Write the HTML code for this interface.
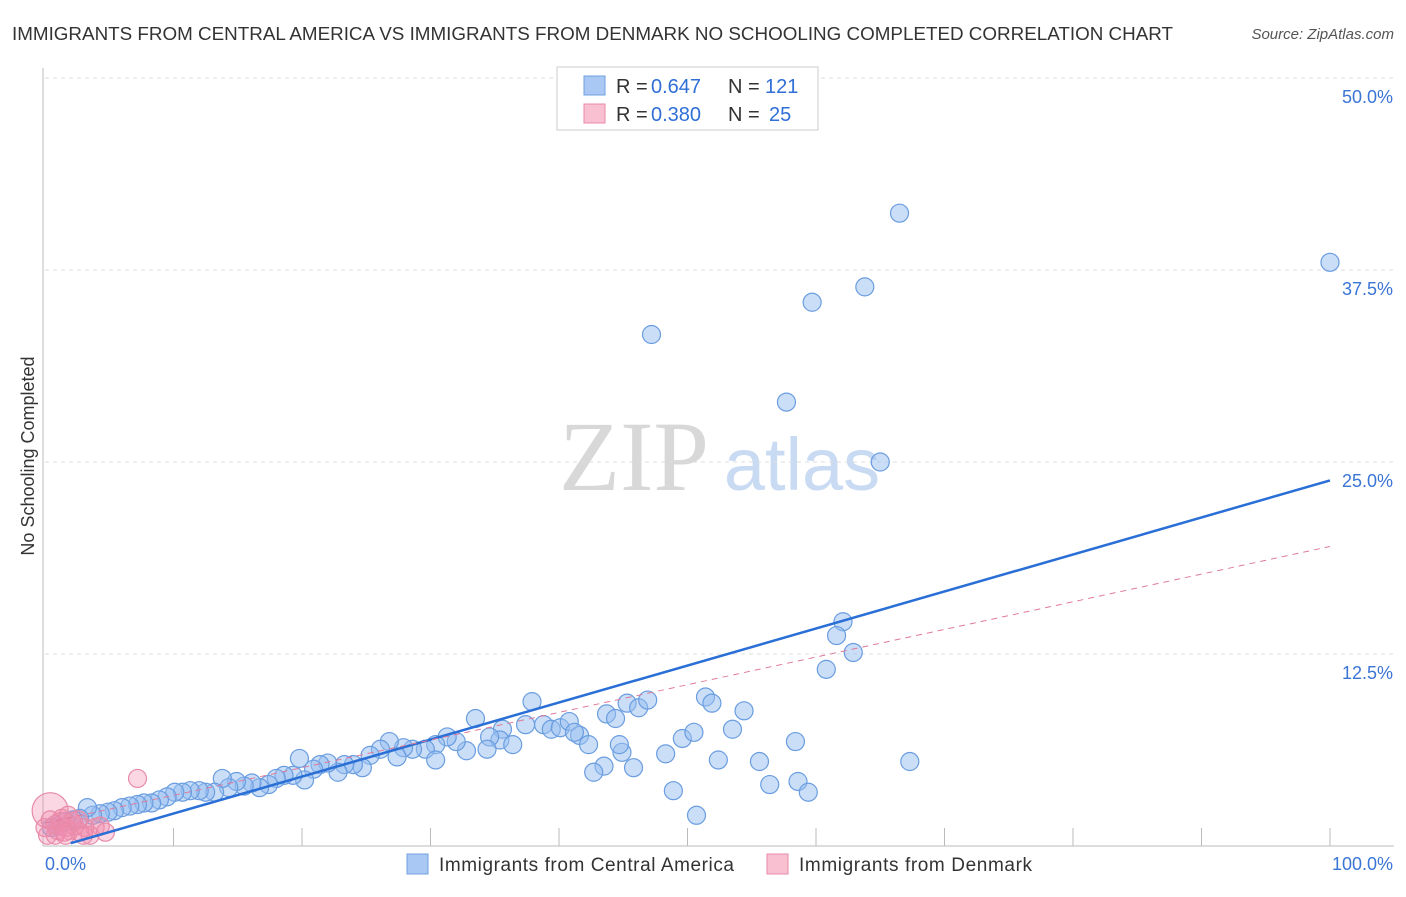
<!DOCTYPE html>
<html><head><meta charset="utf-8"><style>
body{margin:0;background:#fff;font-family:"Liberation Sans",sans-serif;}
</style></head><body>
<svg width="1406" height="892" font-family="Liberation Sans, sans-serif">
<text x="12" y="40" font-size="18" fill="#333" textLength="1161" lengthAdjust="spacingAndGlyphs">IMMIGRANTS FROM CENTRAL AMERICA VS IMMIGRANTS FROM DENMARK NO SCHOOLING COMPLETED CORRELATION CHART</text>
<text x="1394" y="39" font-size="15" fill="#555" font-style="italic" text-anchor="end">Source: ZipAtlas.com</text>
<text x="34" y="456" font-size="18" fill="#333" transform="rotate(-90 34 456)" text-anchor="middle">No Schooling Completed</text>
<g><text x="634" y="490" font-size="100" fill="#d8d8d8" style="font-family:'Liberation Serif',serif" text-anchor="middle">ZIP</text><text x="802" y="490" font-size="74" fill="#c9daf3" text-anchor="middle">atlas</text></g>
<g id="grid"></g>
<g id="axes"></g>
<g id="marks"></g>
<g>
<rect x="557" y="67" width="261" height="63" fill="#fff" stroke="#ccc"/>
<rect x="584" y="76" width="21" height="19" fill="#a9c8f3" stroke="#6fa0e0"/>
<rect x="584" y="104" width="21" height="19" fill="#f9c0d2" stroke="#e88aa8"/>
<text x="616" y="93" font-size="20" fill="#333">R =</text><text x="651" y="93" font-size="20" fill="#2f6fd6">0.647</text>
<text x="728" y="93" font-size="20" fill="#333">N =</text><text x="765" y="93" font-size="20" fill="#2f6fd6">121</text>
<text x="616" y="121" font-size="20" fill="#333">R =</text><text x="651" y="121" font-size="20" fill="#2f6fd6">0.380</text>
<text x="728" y="121" font-size="20" fill="#333">N =</text><text x="769" y="121" font-size="20" fill="#2f6fd6">25</text>
</g>
<g>
<rect x="407" y="854" width="21" height="20" fill="#a9c8f3" stroke="#6fa0e0"/>
<text x="439" y="871" font-size="19" fill="#333" textLength="295">Immigrants from Central America</text>
<rect x="767" y="854" width="21" height="20" fill="#f9c0d2" stroke="#e88aa8"/>
<text x="799" y="871" font-size="19" fill="#333" textLength="233">Immigrants from Denmark</text>
</g>
</svg>
<script>
const blueX=[66.5,100,63.8,59.7,47.2,57.7,65.0,62.1,61.6,62.9,60.8,37.9,51.4,51.9,54.4,43.7,44.4,45.3,46.2,46.9,33.5,35.6,37.4,38.8,39.4,40.1,40.8,41.6,42.3,41.2,35.4,34.6,36.4,34.4,32.8,32.0,31.3,30.4,29.6,28.6,27.9,27.4,26.8,26.1,25.3,24.7,24.0,23.3,22.8,22.0,21.4,20.9,19.8,20.2,19.3,18.6,18.0,17.4,16.7,16.1,15.5,14.9,14.3,13.8,13.2,12.5,12.0,11.3,10.7,10.1,9.5,8.9,8.3,7.7,7.2,6.6,6.0,5.4,4.9,4.3,3.7,3.3,2.7,2.2,1.6,1.0,0.5,44.9,43.5,42.7,45.8,48.3,49.6,50.5,52.4,53.5,55.6,56.4,58.4,58.6,59.4,67.3,48.9,50.7,30.4,44.7];
const blueY=[41.2,38.0,36.4,35.4,33.3,28.9,25.0,14.6,13.7,12.6,11.5,9.4,9.7,9.3,8.8,8.6,8.3,9.3,9.0,9.5,8.3,7.6,7.9,7.9,7.6,7.7,8.1,7.2,6.6,7.4,6.9,7.1,6.6,6.3,6.2,6.8,7.1,6.6,6.3,6.3,6.4,5.8,6.8,6.3,5.9,5.1,5.3,5.3,4.8,5.4,5.3,5.0,5.7,4.3,4.6,4.6,4.4,4.0,3.8,4.1,3.9,4.2,3.8,4.4,3.5,3.5,3.6,3.6,3.5,3.5,3.2,3.0,2.8,2.8,2.7,2.6,2.5,2.3,2.2,2.1,2.0,2.5,1.8,1.7,1.6,1.3,1.2,6.1,5.2,4.8,5.1,6.0,7.0,7.4,5.6,7.6,5.5,4.0,6.8,4.2,3.5,5.5,3.6,2.0,5.6,6.6];
const pinkX=[7.2,0.4,0.8,1.2,1.6,1.9,2.3,2.7,3.1,3.9,4.3,4.7,0.2,0.8,1.3,1.8,1.0,2.1,3.5,0,0.4,1.5,2.6,3.0,1.6];
const pinkY=[4.4,2.3,1.4,1.6,1.2,1.0,1.3,0.9,1.2,1.2,1.3,0.9,0.7,0.7,1.8,2.0,1.0,1.6,0.7,1.2,1.7,0.9,1.7,0.7,0.7];
const yTicks=[12.5,25,37.5,50];
const yTickLabels=["12.5%","25.0%","37.5%","50.0%"];
const xTickCount=10;
const blueTrend=[-0.3,23.8];
const pinkTrend=[1.5,19.5];
const X0=45,X1=1330,Y0=846,Y50=78;
const sx=v=>X0+(X1-X0)*v/100;
const sy=v=>Y0-(Y0-Y50)*v/50;
const NS="http://www.w3.org/2000/svg";
function mk(t,a,p){const e=document.createElementNS(NS,t);for(const k in a)e.setAttribute(k,a[k]);p.appendChild(e);return e;}
const grid=document.getElementById('grid'),axes=document.getElementById('axes'),marks=document.getElementById('marks');
yTicks.forEach((t,i)=>{
 const l=mk('line',{x1:X0,x2:1394,y1:sy(t),y2:sy(t),stroke:'#ddd','stroke-dasharray':'4,4'},grid);
 
 
 const tx=mk('text',{x:1393,y:sy(t)+25,'font-size':18,fill:'#3a75d6','text-anchor':'end'},axes);
 tx.textContent=yTickLabels[i];
 
 
});
mk('line',{x1:X0-2,x2:X0-2,y1:68,y2:Y0,stroke:'#bbb'},axes);
mk('line',{x1:X0-2,x2:1394,y1:Y0,y2:Y0,stroke:'#bbb'},axes);
for(let i=1;i<=xTickCount;i++){const t=mk('line',{x1:sx(i*10),x2:sx(i*10),y1:Y0-18,y2:Y0,stroke:'#bbb'},axes);
 
 }
let a=mk('text',{x:45,y:870,'font-size':18,fill:'#3a75d6'},axes);a.textContent='0.0%';


a=mk('text',{x:1393,y:870,'font-size':18,fill:'#3a75d6','text-anchor':'end'},axes);a.textContent='100.0%';


blueX.forEach((x,i)=>{const c=mk('circle',{cx:sx(x),cy:sy(blueY[i]),r:9,fill:'rgba(150,190,240,0.5)',stroke:'#6a9de0','stroke-width':1.2},marks);
 
 });
pinkX.forEach((x,i)=>{const c=mk('circle',{cx:sx(x),cy:sy(pinkY[i]),r:i==1?18:9,fill:'rgba(240,140,175,0.35)',stroke:'#e88aa8','stroke-width':1.2},marks);
 
 });
let ln=mk('line',{x1:sx(2),y1:sy(blueTrend[0]+(blueTrend[1]-blueTrend[0])*0.02),x2:sx(100),y2:sy(blueTrend[1]),stroke:'#2a6fd6','stroke-width':2.5},marks);


ln=mk('line',{x1:sx(0),y1:sy(pinkTrend[0]),x2:sx(100),y2:sy(pinkTrend[1]),stroke:'#e07a9a','stroke-width':1,'stroke-dasharray':'6,5'},marks);


</script>
</body></html>
